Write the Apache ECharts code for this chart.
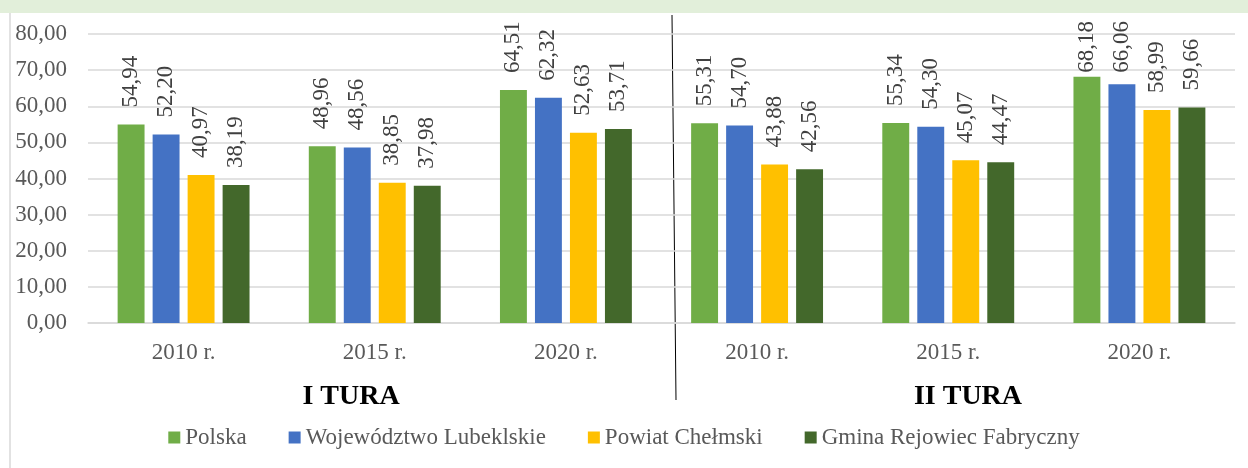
<!DOCTYPE html>
<html>
<head>
<meta charset="utf-8">
<script src="https://cdn.jsdelivr.net/npm/echarts@6/dist/echarts.min.js"></script>
<style>
  html, body { margin: 0; padding: 0; background: #fff; }
  #chart { width: 1248px; height: 468px; }
</style>
</head>
<body>
<div id="chart"></div>
<script>
// kategorie (dwie tury wyborów)
const categories = ["2010 r.", "2015 r.", "2020 r.", "2010 r.", "2015 r.", "2020 r."]
const seriesNames = ["Polska", "Województwo Lubeklskie", "Powiat Chełmski", "Gmina Rejowiec Fabryczny"]
const polska = [54.94, 48.96, 64.51, 55.31, 55.34, 68.18]
const wojewodztwo = [52.20, 48.56, 62.32, 54.70, 54.30, 66.06]
const powiat = [40.97, 38.85, 52.63, 43.88, 45.07, 58.99]
const gmina = [38.19, 37.98, 53.71, 42.56, 44.47, 59.66]
const colors = ["#70ad47", "#4472c4", "#ffc000", "#43682b"]
const roundLabels = ["I TURA", "II TURA"]

const fmt = (v) => v.toFixed(2).replace(".", ",")
const serif = "Liberation Serif"
const labelFont = "23px 'Liberation Serif'"
const labelDist = 17
const labelTopLimit = 21

const myChart = echarts.init(document.getElementById("chart"))

const makeSeries = (name, data, color) => ({
  name: name,
  type: "bar",
  data: data,
  barGap: "30%",
  barCategoryGap: "31%",
  itemStyle: { color: color },
  label: {
    show: true,
    position: "top",
    rotate: 90,
    align: "left",
    verticalAlign: "middle",
    distance: labelDist,
    fontFamily: serif,
    fontSize: 23,
    color: "#404040",
    formatter: (p) => fmt(p.value)
  }
})

const allData = [polska, wojewodztwo, powiat, gmina]

const option = {
  animation: false,
  color: colors,
  grid: { left: 88, right: 13, top: 34, bottom: 145 },
  legend: {
    bottom: 14,
    left: "center",
    itemWidth: 12,
    itemHeight: 12,
    itemGap: 42,
    icon: "rect",
    textStyle: { fontFamily: serif, fontSize: 23, color: "#595959" },
    data: seriesNames
  },
  xAxis: {
    type: "category",
    data: categories,
    axisLine: { lineStyle: { color: "#d9d9d9", width: 1.5 } },
    axisTick: { show: false },
    axisLabel: { fontFamily: serif, fontSize: 23, color: "#595959", margin: 18 }
  },
  yAxis: {
    type: "value",
    min: 0,
    max: 80,
    interval: 10,
    axisLine: { show: false },
    axisTick: { show: false },
    splitLine: { lineStyle: { color: "#d9d9d9", width: 1.5 } },
    axisLabel: { fontFamily: serif, fontSize: 23, color: "#595959", margin: 21, formatter: (v) => fmt(v) }
  },
  graphic: [
    { type: "rect", shape: { x: 0, y: 0, width: 1248, height: 13 }, style: { fill: "#e2efda" } },
    { type: "line", shape: { x1: 10, y1: 13, x2: 10, y2: 468 }, style: { stroke: "#d9d9d9", lineWidth: 1.5 } },
    { type: "line", shape: { x1: 672, y1: 15, x2: 676, y2: 400 }, style: { stroke: "#000", lineWidth: 1 } },
    {
      type: "text", x: 351, y: 397,
      style: { text: roundLabels[0], font: "bold 28px 'Liberation Serif'", fill: "#000", align: "center", verticalAlign: "middle" }
    },
    {
      type: "text", x: 968, y: 397,
      style: { text: roundLabels[1], font: "bold 28px 'Liberation Serif'", fill: "#000", align: "center", verticalAlign: "middle" }
    }
  ],
  series: seriesNames.map((n, i) => makeSeries(n, allData[i], colors[i]))
}

myChart.setOption(option)

// etykiety nie wychodzą ponad obszar wykresu (jak w Excelu) - skracamy odstęp
const ctx = document.createElement("canvas").getContext("2d")
ctx.font = labelFont
myChart.setOption({
  series: allData.map((arr) => ({
    data: arr.map((v, i) => {
      const barTop = myChart.convertToPixel({ gridIndex: 0 }, [i, v])[1]
      const len = ctx.measureText(fmt(v)).width
      const top = barTop - labelDist - len
      if (top >= labelTopLimit) return v
      return { value: v, label: { distance: Math.max(1, barTop - labelTopLimit - len) } }
    })
  }))
})
</script>
</body>
</html>
